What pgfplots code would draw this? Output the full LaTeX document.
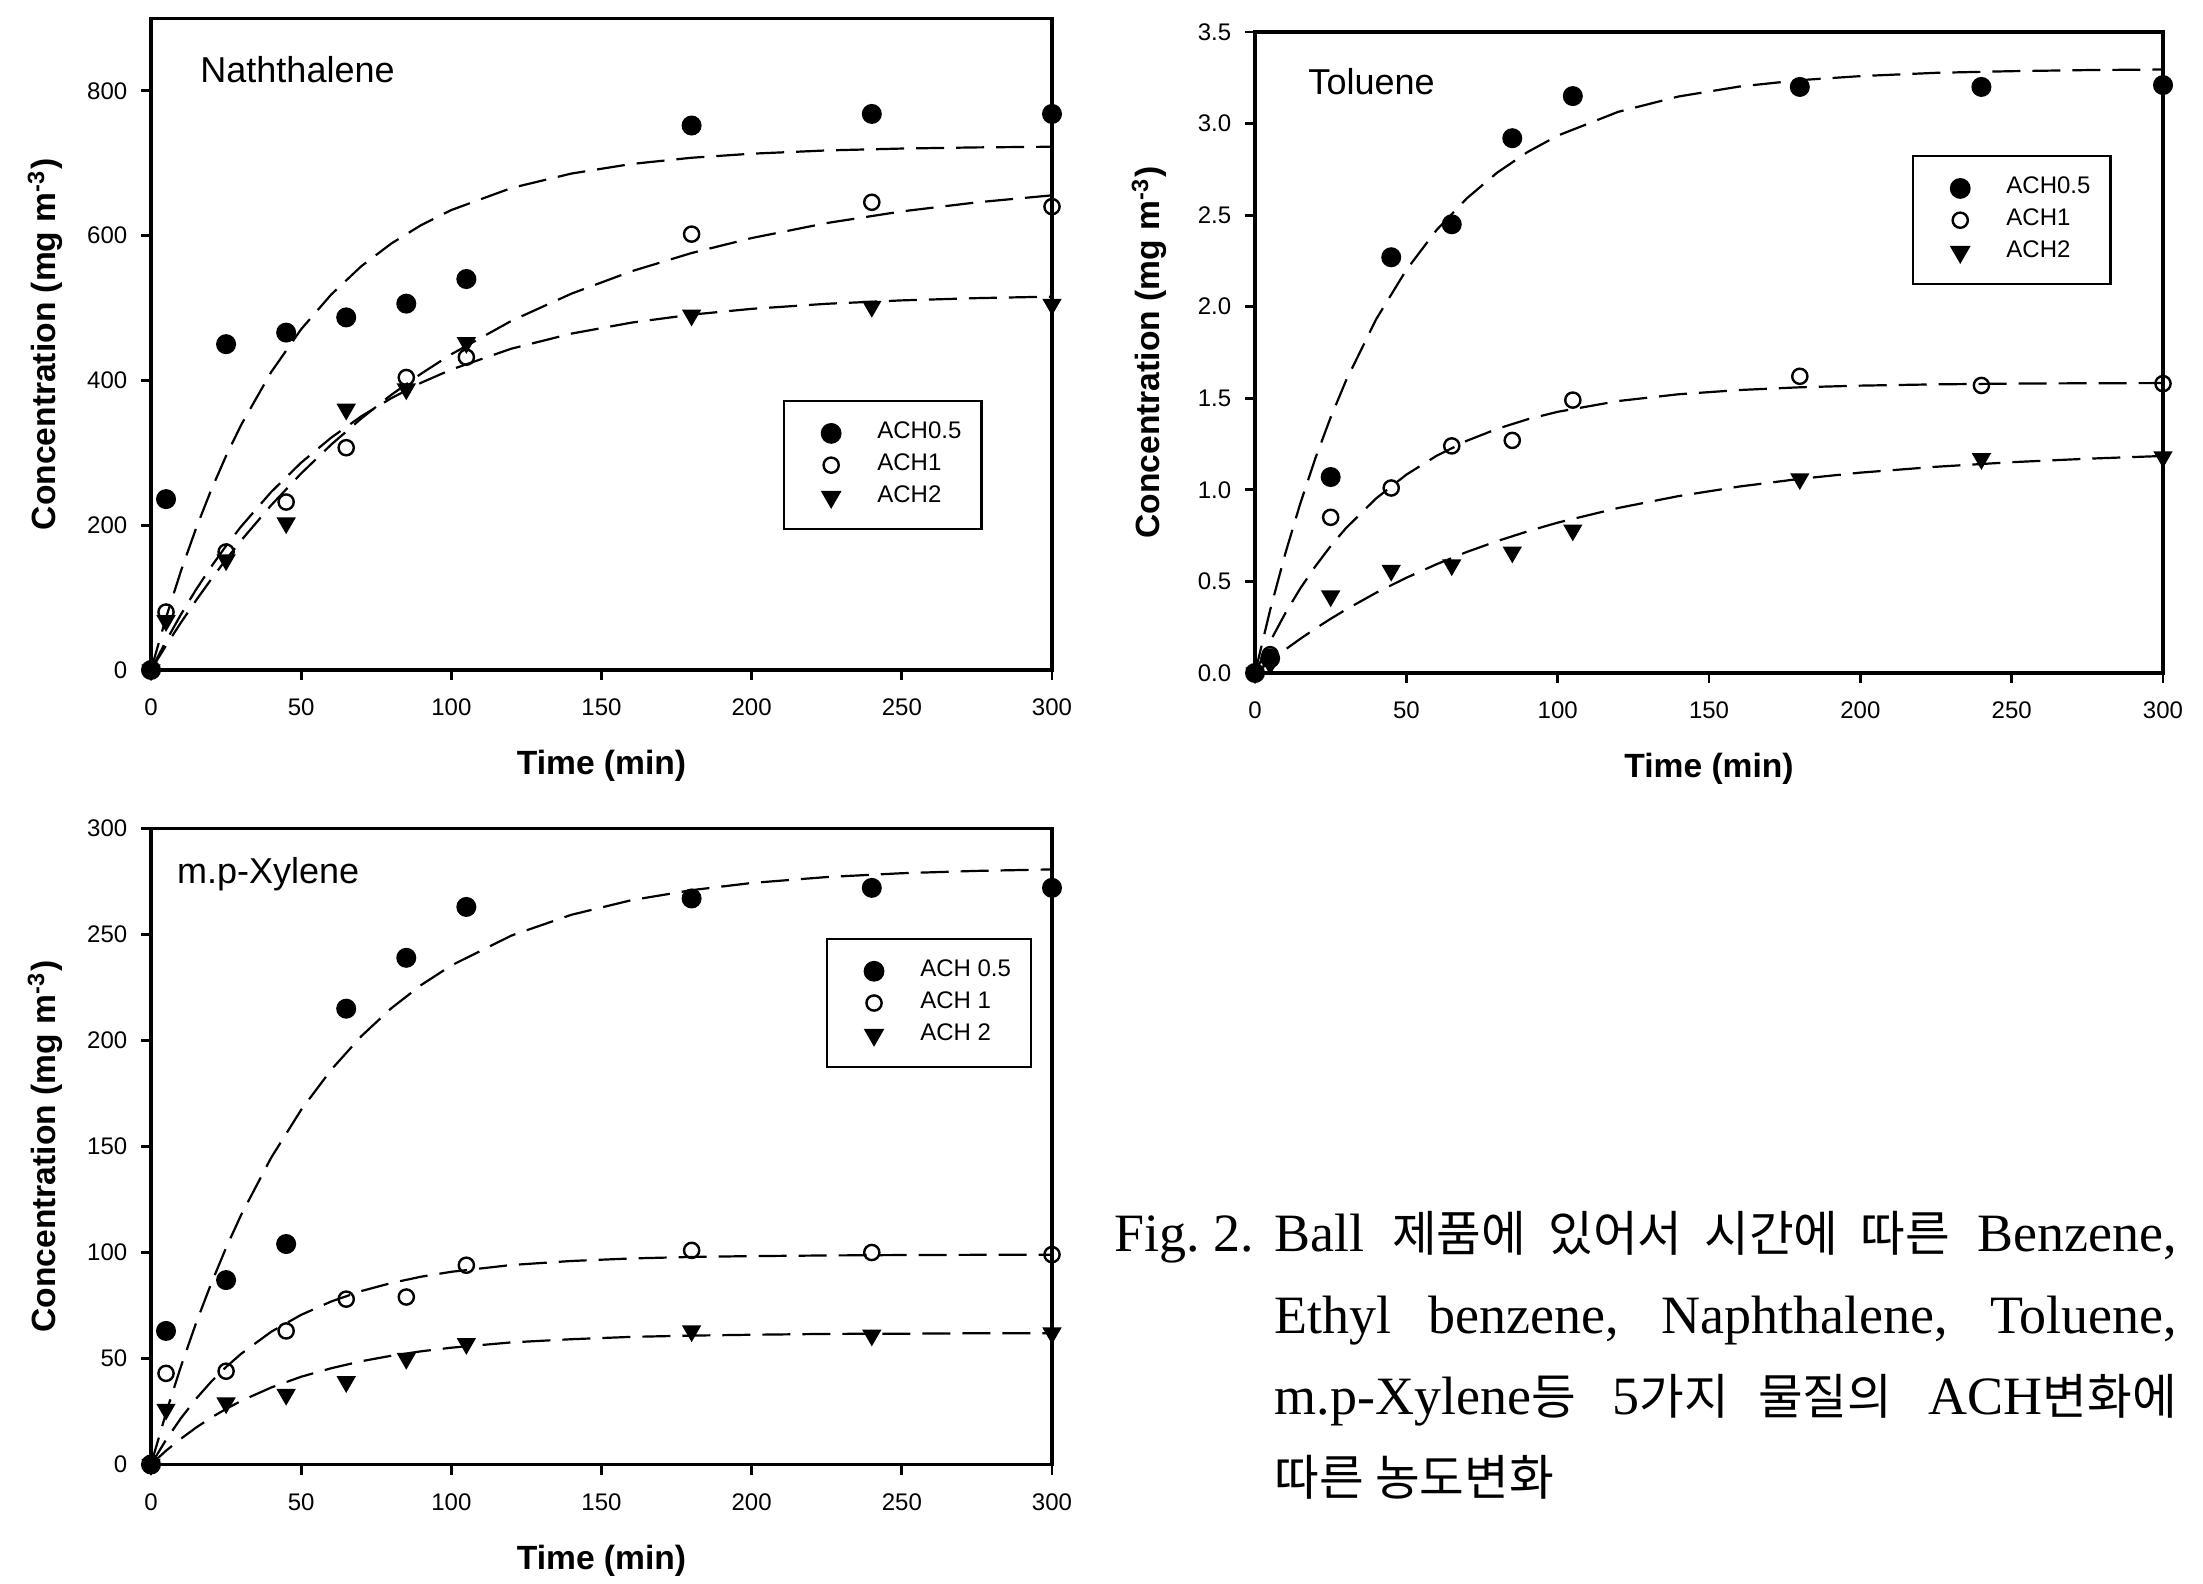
\documentclass[border=0pt]{standalone}
\usepackage{fontspec}
\setmainfont{Liberation Sans}
\newfontfamily\capfont{Liberation Serif}
\newfontfamily\kr{Noto Sans CJK KR}[Scale=0.9]
\usepackage{pgfplots}
\pgfplotsset{compat=1.18}
\pgfplotsset{
  chart/.style={
    scale only axis, xmin=0, xmax=300, ymin=0, xtick={0,50,...,300},
    axis line style={line width=0.8pt}, tick pos=left, tick align=outside,
    major tick length=2.5pt, tick style={line width=0.7pt, black},
    ticklabel style={font=\fontsize{6}{7}\selectfont},
    /pgf/number format/assume math mode=true,
    xticklabel style={inner sep=0pt, yshift=-4.5pt},
    yticklabel style={inner sep=0pt, xshift=-3.25pt},
    xlabel={Time (min)}, ylabel={Concentration (mg m\textsuperscript{-3})},
    label style={font=\bfseries\fontsize{8.4}{10}\selectfont},
    xlabel style={at={([yshift=-24pt]axis description cs:0.5,0)}, anchor=center},
    ylabel style={at={([xshift=-26.5pt]axis description cs:0,0.5)}, anchor=center},
    legend cell align=left,
    legend image code/.code={\path[draw=none,fill=none] (0pt,-2pt) rectangle (9pt,2pt); \draw[##1] plot coordinates {(6.75pt,0pt)};},
    legend style={draw=black, line width=0.6pt, fill=white, inner xsep=5pt, inner ysep=5.2pt,
      row sep=2.25pt, column sep=9.25pt, font=\fontsize{6}{7}\selectfont,
      nodes={inner sep=0pt}, cells={anchor=west}, anchor=north west},
  },
  curve/.style={black, line width=0.55pt, dash pattern=on 7pt off 3pt, forget plot},
  mA/.style={only marks, mark=*, mark size=2.3pt, mark options={fill=black, draw=black, solid}},
  mB/.style={only marks, mark=o, mark size=1.9pt, mark options={line width=0.6pt, draw=black, solid}},
  mC/.style={only marks, mark=triangle*, mark size=2.4pt, mark options={rotate=180, fill=black, draw=black, solid}},
}
\begin{document}
\begin{tikzpicture}
\useasboundingbox (0,0) rectangle (550.75pt,395.75pt);

% ---------------- Naphthalene ----------------
\begin{axis}[chart, at={(37.75pt,228.25pt)}, anchor=south west,
  width=225.25pt, height=162.9pt, ymax=900, ytick={0,200,...,800},
  legend style={at={(0.7014,0.4143)}}]
\addplot[curve] coordinates {(0,0) (5,72.2) (10,137.1) (15,195.6) (20,248.3) (25,295.7) (30,338.4) (40,411.4) (50,470.7) (60,518.6) (70,557.6) (80,589.0) (90,614.6) (100,635.3) (120,665.7) (140,685.7) (160,698.9) (180,707.5) (200,713.1) (225,717.6) (250,720.2) (275,721.8) (300,722.7)};
\addplot[curve] coordinates {(0,0) (5,33.7) (10,65.7) (15,96.1) (20,125.1) (25,152.6) (30,178.8) (40,227.5) (50,271.5) (60,311.3) (70,347.3) (80,380.0) (90,409.4) (100,436.1) (120,482.2) (140,519.8) (160,550.7) (180,575.9) (200,596.6) (225,617.3) (250,633.4) (275,645.9) (300,655.6)};
\addplot[curve] coordinates {(0,0) (5,40.0) (10,76.9) (15,111.0) (20,142.4) (25,171.4) (30,198.2) (40,245.8) (50,286.4) (60,320.9) (70,350.3) (80,375.4) (90,396.8) (100,415.0) (120,443.8) (140,464.6) (160,479.8) (180,490.8) (200,498.8) (225,505.8) (250,510.5) (275,513.6) (300,515.7)};
\addplot[mA] coordinates {(0,0) (5,236) (25,450) (45,466) (65,487) (85,506) (105,540) (180,752) (240,768) (300,768)};
\addplot[mB] coordinates {(0,0) (5,80) (25,163) (45,232) (65,307) (85,404) (105,432) (180,602) (240,646) (300,640)};
\addplot[mC] coordinates {(0,0) (5,68) (25,152) (45,203) (65,360) (85,388) (105,452) (180,490) (240,502) (300,505)};
\legend{ACH0.5, ACH1, ACH2}
\node[anchor=base west, inner sep=0pt, font=\fontsize{9}{10}\selectfont] at (rel axis cs:0.054,0.902) {Naththalene};
\end{axis}

% ---------------- Toluene ----------------
\begin{axis}[chart, at={(313.75pt,227.5pt)}, anchor=south west,
  width=227pt, height=160.25pt, ymax=3.5, ytick={0,0.5,...,3.5},
  yticklabel style={/pgf/number format/.cd, fixed, fixed zerofill, precision=1},
  legend style={at={(0.7236,0.808)}}]
\addplot[curve] coordinates {(0,0) (5,0.344) (10,0.652) (15,0.928) (20,1.175) (25,1.396) (30,1.594) (40,1.931) (50,2.201) (60,2.419) (70,2.592) (80,2.732) (90,2.844) (100,2.934) (120,3.064) (140,3.148) (160,3.202) (180,3.237) (200,3.259) (225,3.277) (250,3.286) (275,3.292) (300,3.295)};
\addplot[curve] coordinates {(0,0) (5,0.172) (10,0.326) (15,0.463) (20,0.584) (25,0.693) (30,0.790) (40,0.953) (50,1.083) (60,1.186) (70,1.268) (80,1.333) (90,1.385) (100,1.426) (120,1.485) (140,1.522) (160,1.545) (180,1.560) (200,1.569) (225,1.576) (250,1.580) (275,1.582) (300,1.583)};
\addplot[curve] coordinates {(0,0) (5,0.066) (10,0.128) (15,0.187) (20,0.243) (25,0.296) (30,0.346) (40,0.438) (50,0.520) (60,0.594) (70,0.661) (80,0.720) (90,0.773) (100,0.821) (120,0.901) (140,0.966) (160,1.018) (180,1.060) (200,1.094) (225,1.126) (250,1.151) (275,1.170) (300,1.185)};
\addplot[mA] coordinates {(0,0) (5,0.08) (25,1.07) (45,2.27) (65,2.45) (85,2.92) (105,3.15) (180,3.20) (240,3.20) (300,3.21)};
\addplot[mB] coordinates {(0,0) (5,0.10) (25,0.85) (45,1.01) (65,1.24) (85,1.27) (105,1.49) (180,1.62) (240,1.57) (300,1.58)};
\addplot[mC] coordinates {(0,0) (5,0.05) (25,0.42) (45,0.56) (65,0.59) (85,0.66) (105,0.78) (180,1.06) (240,1.17) (300,1.18)};
\legend{ACH0.5, ACH1, ACH2}
\node[anchor=base west, inner sep=0pt, font=\fontsize{9}{10}\selectfont] at (rel axis cs:0.058,0.903) {Toluene};
\end{axis}

% ---------------- m.p-Xylene ----------------
\begin{axis}[chart, at={(37.75pt,29.625pt)}, anchor=south west,
  width=225.25pt, height=159pt, ymax=300, ytick={0,50,...,300},
  legend style={at={(0.749,0.828)}}]
\addplot[curve] coordinates {(0,0) (5,24.3) (10,46.4) (15,66.7) (20,85.2) (25,102.2) (30,117.7) (40,144.7) (50,167.3) (60,186.2) (70,202.0) (80,215.2) (90,226.2) (100,235.4) (120,249.5) (140,259.3) (160,266.2) (180,270.9) (200,274.3) (225,277.1) (250,278.9) (275,280.0) (300,280.7)};
\addplot[curve] coordinates {(0,0) (5,11.6) (10,21.9) (15,31.0) (20,39.0) (25,46.0) (30,52.2) (40,62.6) (50,70.6) (60,76.9) (70,81.8) (80,85.6) (90,88.6) (100,90.9) (120,94.1) (140,96.0) (160,97.2) (180,97.9) (200,98.3) (225,98.6) (250,98.8) (275,98.9) (300,98.9)};
\addplot[curve] coordinates {(0,0) (5,6.5) (10,12.2) (15,17.4) (20,22.1) (25,26.2) (30,30.0) (40,36.3) (50,41.4) (60,45.4) (70,48.7) (80,51.3) (90,53.4) (100,55.1) (120,57.6) (140,59.1) (160,60.2) (180,60.8) (200,61.2) (225,61.6) (250,61.7) (275,61.9) (300,61.9)};
\addplot[mA] coordinates {(0,0) (5,63) (25,87) (45,104) (65,215) (85,239) (105,263) (180,267) (240,272) (300,272)};
\addplot[mB] coordinates {(0,0) (5,43) (25,44) (45,63) (65,78) (85,79) (105,94) (180,101) (240,100) (300,99)};
\addplot[mC] coordinates {(0,0) (5,26) (25,29) (45,33) (65,39) (85,50) (105,57) (180,63) (240,61) (300,62)};
\legend{ACH 0.5, ACH 1, ACH 2}
\node[anchor=base west, inner sep=0pt, font=\fontsize{9}{10}\selectfont] at (rel axis cs:0.028,0.913) {m.p-Xylene};
\end{axis}

% ---------------- Caption ----------------
\node[anchor=base west, inner sep=0pt] at (278.5pt,82.75pt) {\parbox[t]{265.5pt}{\capfont\fontsize{13.5}{20.3}\selectfont\parindent=0pt\noindent\hangindent=40pt\hangafter=1
\makebox[40pt][l]{Fig.~2.}Ball {\kr 제품에 있어서 시간에 따른} Benzene,\linebreak
Ethyl benzene, Naphthalene, Toluene,\linebreak
m.p-Xylene{\kr 등} 5{\kr 가지 물질의} ACH{\kr 변화에}\linebreak
{\kr 따른 농도변화}}};
\end{tikzpicture}
\end{document}
